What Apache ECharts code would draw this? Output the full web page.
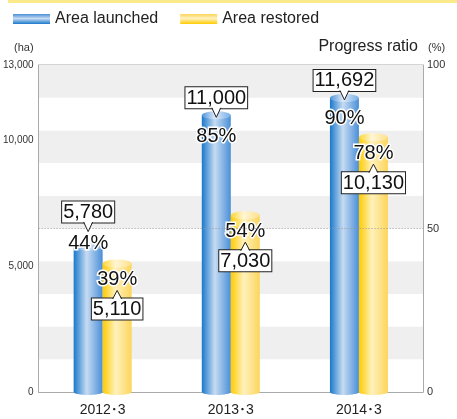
<!DOCTYPE html>
<html>
<head>
<meta charset="utf-8">
<title>Area launched / restored</title>
<script src="https://cdn.jsdelivr.net/npm/echarts@6/dist/echarts.min.js"></script>
<style>
  html, body { margin: 0; padding: 0; background: #fff; }
  #chart { width: 457px; height: 419px; }
</style>
</head>
<body>
<div id="chart"></div>
<script>
const categories = ['2012･3', '2013･3', '2014･3'];
const launched = [5780, 11000, 11692];
const restored = [5110, 7030, 10130];
const launchedPct = [44, 85, 90];
const restoredPct = [39, 54, 78];
const areaTicks = [0, 5000, 10000, 13000];
const ratioTicks = [0, 50, 100];

const FONT = "'Liberation Sans', 'Noto Sans CJK JP', sans-serif";
const BAR_W = 29;
// the first launched callout sits higher in the original
const launchedLift = [-17, 0, 0];
const launchedPctLift = [-24, 0, 0];

function hGrad(c) {
  return new echarts.graphic.LinearGradient(0, 0, 1, 0, [
    { offset: 0, color: c[0] }, { offset: 0.45, color: c[1] }, { offset: 1, color: c[2] }
  ]);
}
function vGrad(c) {
  return new echarts.graphic.LinearGradient(0, 0, 0, 1, [
    { offset: 0, color: c[2] }, { offset: 0.45, color: c[1] }, { offset: 1, color: c[0] }
  ]);
}
const blue = ['#1a78cc', '#c6dbf2', '#4a8fd8'];
const blueTop = ['#4f94dc', '#dce9f8', '#78aee6'];
const yellow = ['#ffcb00', '#fff1bd', '#fcd55a'];
const yellowTop = ['#ffd633', '#fff6d6', '#fde08a'];

function callout(side, values, pcts, lift, pctLift, boxAbove, colors, topColors) {
  return function (params, api) {
    const i = api.value(0);
    const v = api.value(1);
    const pt = api.coord([i, v]);
    const base0 = api.coord([i, 0]);
    const x = pt[0] + side * BAR_W / 2;
    const y = pt[1] + (lift ? lift[i] : 0);
    const font = '20px ' + FONT;
    let tip, base, pctY;
    if (boxAbove) { tip = y + 2; base = tip - 9; pctY = pt[1] + 21 + pctLift[i]; }
    else { tip = y + 27; base = tip + 8; pctY = y + 16; }
    const d = boxAbove ? 1 : -1;
    return {
      type: 'group',
      children: [
        { type: 'ellipse', shape: { cx: x, cy: base0[1], rx: BAR_W / 2, ry: 3 }, style: { fill: hGrad(colors) } },
        { type: 'ellipse', shape: { cx: x, cy: pt[1], rx: BAR_W / 2, ry: 4 }, style: { fill: hGrad(topColors) } },
        {
          type: 'text',
          style: {
            text: echarts.format.addCommas(values[i]), x: x, y: base,
            align: 'center', verticalAlign: boxAbove ? 'bottom' : 'top',
            font: font, fill: '#111', backgroundColor: '#fff',
            borderColor: '#222', borderWidth: 1, padding: [1, 1, 0, 1], lineHeight: 20
          }
        },
        { type: 'polygon', shape: { points: [[x - 4, base - d], [x + 4, base - d], [x, tip]] }, style: { fill: '#fff' } },
        { type: 'polyline', shape: { points: [[x - 4.5, base - d * 0.5], [x, tip], [x + 4.5, base - d * 0.5]] }, style: { stroke: '#222', fill: null, lineWidth: 1 } },
        {
          type: 'text',
          style: {
            text: pcts[i] + '%', x: x, y: pctY, align: 'center', verticalAlign: 'middle',
            font: font, fill: '#111', stroke: '#fff', lineWidth: 3
          }
        }
      ]
    };
  };
}

const chart = echarts.init(document.getElementById('chart'));
chart.setOption({
  animation: false,
  textStyle: { fontFamily: FONT },
  graphic: [
    { type: 'rect', left: 8, top: 0, shape: { width: 449, height: 3 }, style: { fill: '#fce98c' } },
    { type: 'text', right: 39, top: 39, style: { text: 'Progress ratio', font: '16px ' + FONT, fill: '#222' } }
  ],
  legend: {
    left: 8, top: 6, itemWidth: 37, itemHeight: 10, itemGap: 22, icon: 'rect',
    textStyle: { fontSize: 16, color: '#222' },
    data: [
      { name: 'Area launched', itemStyle: { color: vGrad(blue) } },
      { name: 'Area restored', itemStyle: { color: vGrad(yellow) } }
    ]
  },
  grid: { left: 36, right: 34, top: 65, bottom: 27, show: true, borderColor: '#aaa', borderWidth: 1 },
  xAxis: {
    type: 'category', data: categories,
    axisLine: { lineStyle: { color: '#aaa' } }, axisTick: { show: false },
    axisLabel: { fontSize: 14, color: '#222', margin: 11 }
  },
  yAxis: [
    {
      type: 'value', min: 0, max: 13000, interval: 1000,
      name: '(ha)', nameLocation: 'end', nameGap: 12,
      nameTextStyle: { fontSize: 11, color: '#333', align: 'right', padding: [0, 5, 0, 0] },
      axisLine: { show: true, lineStyle: { color: '#aaa' } }, axisTick: { show: false },
      splitLine: { show: false },
      axisLabel: {
        fontSize: 10, color: '#333', margin: 5,
        fontFamily: "'Liberation Sans Narrow', 'Liberation Sans', sans-serif",
        formatter: v => areaTicks.includes(v) ? echarts.format.addCommas(v) : ''
      }
    },
    {
      type: 'value', min: 0, max: 100, interval: 10, position: 'right',
      name: '(%)', nameLocation: 'end', nameGap: 12,
      nameTextStyle: { fontSize: 11, color: '#333', align: 'left', padding: [0, 0, 0, 5] },
      axisLine: { show: true, lineStyle: { color: '#aaa' } }, axisTick: { show: false },
      splitLine: { show: false },
      splitArea: { show: true, areaStyle: { color: ['#ffffff', '#eeefee'] } },
      axisLabel: {
        fontSize: 11, color: '#333', margin: 4,
        formatter: v => ratioTicks.includes(v) ? String(v) : ''
      }
    }
  ],
  series: [
    {
      name: 'half', type: 'line', yAxisIndex: 1, data: [], z: 1,
      markLine: {
        silent: true, symbol: 'none', label: { show: false },
        lineStyle: { type: [1, 2], color: '#999', width: 1 },
        data: [{ yAxis: 50 }]
      }
    },
    {
      name: 'Area launched', type: 'bar', data: launched, barWidth: BAR_W, barGap: '0%',
      itemStyle: { color: hGrad(blue) }, z: 3
    },
    {
      name: 'Area restored', type: 'bar', data: restored, barWidth: BAR_W, barGap: '0%',
      itemStyle: { color: hGrad(yellow) }, z: 3
    },
    {
      name: 'launchedCallout', type: 'custom', z: 5,
      data: launched.map((v, i) => [i, v]), encode: { x: 0, y: 1 },
      renderItem: callout(-1, launched, launchedPct, launchedLift, launchedPctLift, true, blue, blueTop)
    },
    {
      name: 'restoredCallout', type: 'custom', z: 4,
      data: restored.map((v, i) => [i, v]), encode: { x: 0, y: 1 },
      renderItem: callout(1, restored, restoredPct, null, null, false, yellow, yellowTop)
    }
  ]
});
</script>
</body>
</html>
